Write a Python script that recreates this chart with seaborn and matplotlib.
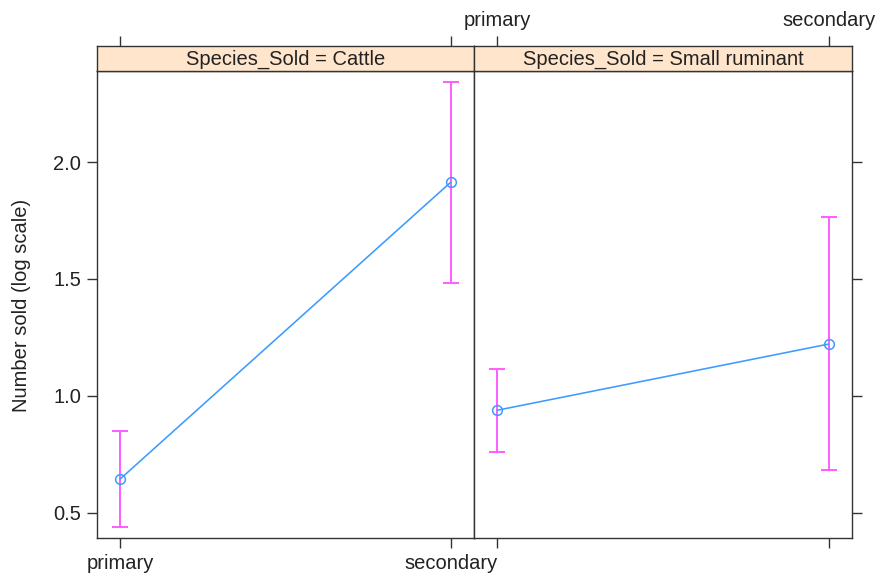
import matplotlib
matplotlib.use("Agg")
import matplotlib.pyplot as plt
import seaborn as sns
import pandas as pd
import numpy as np

sns.set_theme(style="white")
plt.rcParams["font.family"] = ["Liberation Sans", "DejaVu Sans"]

# Estimated means and 95% intervals (log scale) by market level and species
levels = ["primary", "secondary"]
species = ["Cattle", "Small ruminant"]
cattle_fit = [0.645, 1.914]
cattle_lower = [0.44, 1.483]
cattle_upper = [0.849, 2.342]
smallrum_fit = [0.939, 1.222]
smallrum_lower = [0.761, 0.682]
smallrum_upper = [1.115, 1.765]
y_ticks = [0.5, 1.0, 1.5, 2.0]
y_label = "Number sold (log scale)"

df = pd.DataFrame({
    "Species_Sold": np.repeat(species, len(levels)),
    "level": levels * len(species),
    "x": list(range(1, len(levels) + 1)) * len(species),
    "fit": cattle_fit + smallrum_fit,
    "lower": cattle_lower + smallrum_lower,
    "upper": cattle_upper + smallrum_upper,
})

W, H = 879, 579
fig = plt.figure(figsize=(W / 100, H / 100), dpi=100)

line_col = "#3d9bff"
err_col = "#ff5cff"
strip_col = "#ffe5cc"
frame_col = "#333333"
text_col = "#222222"

panel_px = [(97, 474), (474, 852)]
top_px, bot_px, strip_top_px = 71, 538, 46
xlim = (0.93, 2.07)
ylim = (0.393, 2.389)
fs = 14.5

for i, sp in enumerate(species):
    l, r = panel_px[i]
    ax = fig.add_axes([l / W, 1 - bot_px / H, (r - l) / W, (bot_px - top_px) / H])
    sax = fig.add_axes([l / W, 1 - top_px / H, (r - l) / W, (top_px - strip_top_px) / H])
    sub = df[df["Species_Sold"] == sp]

    ax.errorbar(sub["x"], sub["fit"],
                yerr=[sub["fit"] - sub["lower"], sub["upper"] - sub["fit"]],
                fmt="none", ecolor=err_col, elinewidth=1.4, capsize=5.8, capthick=1.4, zorder=2)
    sns.lineplot(data=sub, x="x", y="fit", ax=ax, color=line_col, linewidth=1.15,
                 marker="o", markersize=7, markerfacecolor="none",
                 markeredgecolor=line_col, markeredgewidth=1.1, zorder=3)

    ax.set_xlim(*xlim)
    ax.set_ylim(*ylim)
    ax.set_xticks([1, 2])
    ax.set_yticks(y_ticks)
    ax.set_xlabel("")
    ax.set_ylabel("")
    for s in ax.spines.values():
        s.set_color(frame_col)
        s.set_linewidth(1.0)
    ax.tick_params(direction="out", length=7.5, width=1.0, color=frame_col,
                   labelsize=fs, labelcolor=text_col, pad=4)

    if i == 0:
        ax.set_xticklabels(levels)
        ax.set_yticklabels([f"{v:.1f}" for v in y_ticks])
        ax.tick_params(axis="y", left=True, right=False, labelleft=True)
        ax.tick_params(axis="x", bottom=True, labelbottom=True)
    else:
        ax.tick_params(axis="x", bottom=True, labelbottom=False)
        ax.tick_params(axis="y", left=False, right=True, labelleft=False, labelright=False)

    # strip above the panel
    sax.set_facecolor(strip_col)
    sax.set_xlim(*xlim)
    sax.set_ylim(0, 1)
    sax.set_yticks([])
    sax.set_xticks([1, 2])
    for s in sax.spines.values():
        s.set_color(frame_col)
        s.set_linewidth(1.0)
    sax.tick_params(axis="x", bottom=False, top=True, direction="out", length=7.5,
                    width=1.0, color=frame_col, labelbottom=False,
                    labeltop=(i == 1), labelsize=fs, labelcolor=text_col, pad=4)
    if i == 1:
        sax.set_xticklabels(levels)
    sax.text(0.5, 0.45, f"Species_Sold = {sp}", transform=sax.transAxes,
             ha="center", va="center", fontsize=fs, color=text_col)

fig.text(22 / W, 1 - 305 / H, y_label, rotation=90, ha="center", va="center",
         fontsize=fs, color=text_col)

fig.savefig("out.png", dpi=100)
